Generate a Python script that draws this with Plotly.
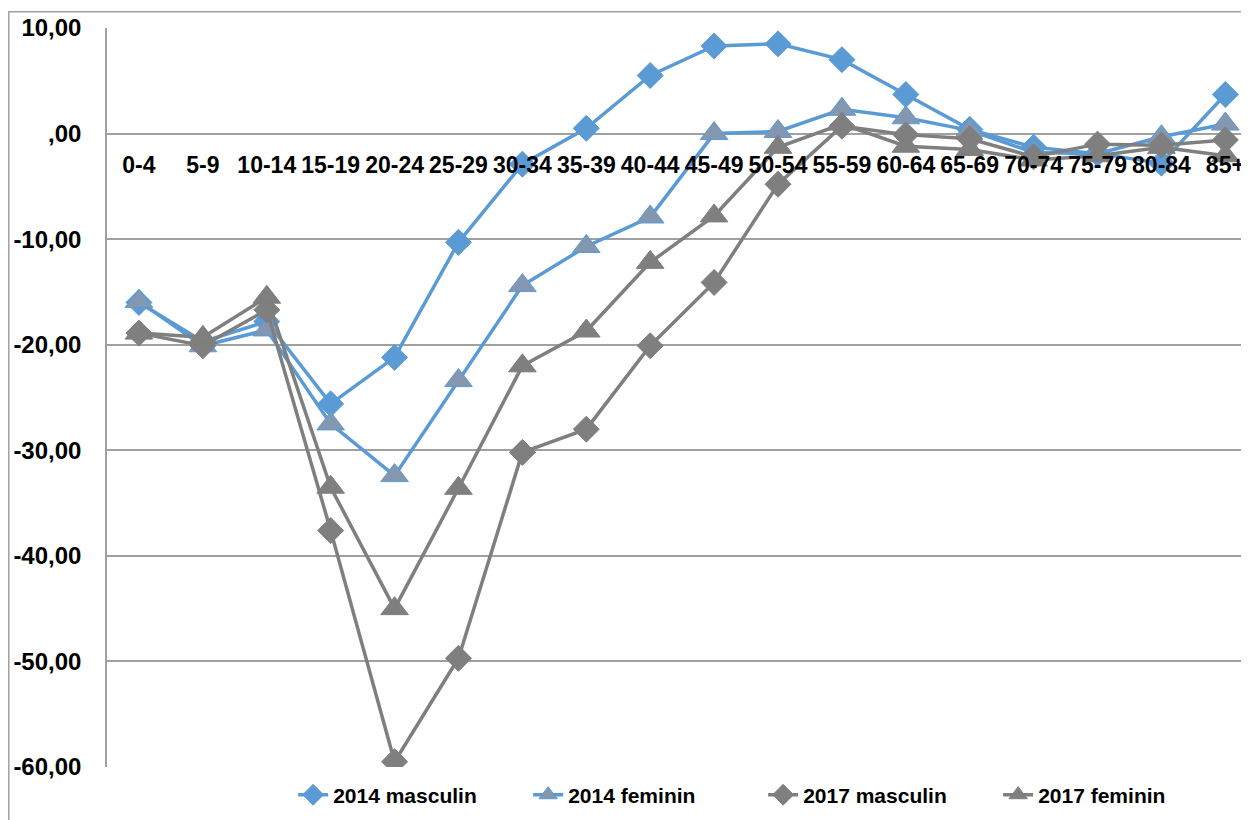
import plotly.graph_objects as go

age_groups = ["0-4", "5-9", "10-14", "15-19", "20-24", "25-29", "30-34", "35-39", "40-44",
              "45-49", "50-54", "55-59", "60-64", "65-69", "70-74", "75-79", "80-84", "85+"]

masc_2014 = [-16.0, -19.7, -17.8, -25.6, -21.2, -10.3, -2.9, 0.5, 5.5,
             8.3, 8.5, 7.0, 3.7, 0.4, -1.3, -1.9, -2.8, 3.7]
fem_2014 = [-15.9, -20.1, -18.6, -27.5, -32.4, -23.4, -14.4, -10.7, -7.9,
            0.0, 0.2, 2.3, 1.5, 0.3, -1.8, -1.9, -0.3, 0.9]
masc_2017 = [-18.9, -20.1, -16.7, -37.6, -59.5, -49.7, -30.2, -28.0, -20.1,
             -14.1, -4.8, 0.7, -0.1, -0.5, -2.2, -1.0, -1.1, -0.6]
fem_2017 = [-18.9, -19.3, -15.5, -33.5, -45.0, -33.6, -22.0, -18.7, -12.2,
            -7.8, -1.3, 0.9, -1.2, -1.5, -2.5, -2.1, -1.3, -2.1]

y_ticks = [-60, -50, -40, -30, -20, -10, 0, 10]
y_ticktext = ["-60,00", "-50,00", "-40,00", "-30,00", "-20,00", "-10,00", ",00", "10,00"]

BLUE = "#5b9bd5"
GRAY = "#7f7f7f"
FONT = "Liberation Sans"

series = [
    ("2014 masculin", masc_2014, BLUE, "diamond", BLUE, 20),
    ("2014 feminin", fem_2014, BLUE, "triangle-up", "#8497b0", 24),
    ("2017 masculin", masc_2017, GRAY, "diamond", GRAY, 20),
    ("2017 feminin", fem_2017, GRAY, "triangle-up", GRAY, 24),
]

fig = go.Figure()
for name, vals, lc, sym, fc, sz in series:
    fig.add_trace(go.Scatter(
        x=age_groups, y=vals, name=name, mode="lines+markers",
        line=dict(color=lc, width=3.5),
        marker=dict(symbol=sym, size=sz, color=fc, line=dict(color=lc, width=1)),
    ))

# outer chart frame (cut by the image edges on the right and bottom)
fig.add_shape(type="rect", xref="paper", yref="paper",
              x0=-0.0860, x1=1.05, y0=-0.2, y1=1.022,
              line=dict(color="#a0a0a0", width=1.5), fillcolor="rgba(0,0,0,0)")

# page body adds 8px, so the figure is 1241x812
fig.update_layout(
    width=1241, height=812,
    margin=dict(l=99, r=0, t=20, b=53),
    plot_bgcolor="white", paper_bgcolor="white",
    font=dict(family=FONT, color="black"),
    xaxis=dict(
        type="category", range=[-0.5, 17.37],
        anchor="free", position=60 / 70,
        showgrid=False, showline=False, zeroline=False, ticks="",
        tickfont=dict(family=FONT, size=23, weight="bold"),
        ticklabelstandoff=15,
    ),
    yaxis=dict(
        range=[-60, 10], tickvals=y_ticks, ticktext=y_ticktext,
        showgrid=True, gridcolor="#a0a0a0", gridwidth=1.5,
        zeroline=False, showline=True, linecolor="#a0a0a0", linewidth=1.5,
        ticks="", ticklabelstandoff=19,
        tickfont=dict(family=FONT, size=24, weight="bold"),
    ),
    showlegend=True,
    legend=dict(
        orientation="h", x=0.163, xanchor="left", y=-0.038, yanchor="middle",
        font=dict(family=FONT, size=21, weight="bold"),
        entrywidth=190, bgcolor="rgba(0,0,0,0)",
    ),
)

fig.write_html("out.html")
